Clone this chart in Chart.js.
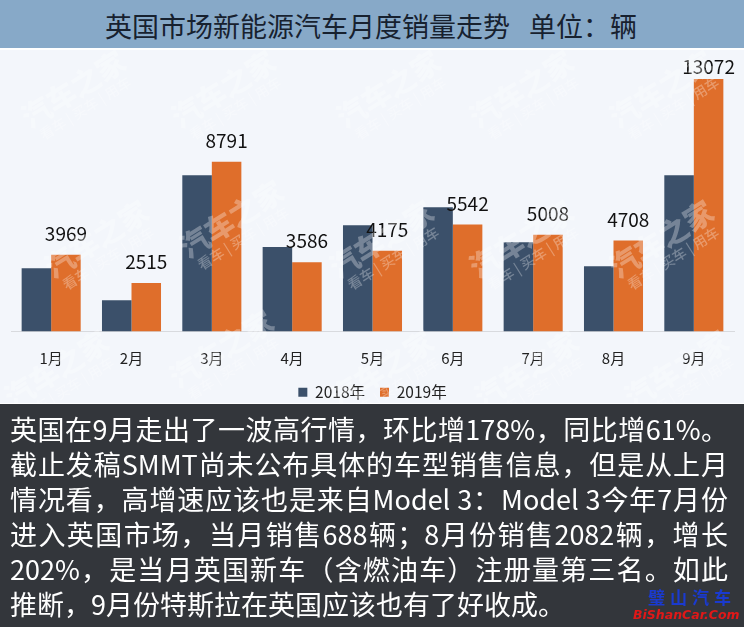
<!DOCTYPE html>
<html lang="zh">
<head>
<meta charset="utf-8">
<script src="https://cdn.jsdelivr.net/npm/chart.js@4"></script>
<style>
  html,body{margin:0;padding:0;background:#fff;overflow:hidden}
  #page{position:relative;width:744px;height:627px;overflow:hidden;font-family:"Noto Sans CJK SC","Noto Sans",sans-serif}
  #title{position:absolute;left:0;top:0;width:744px;height:48px;background:#87a9c8;color:#17212f;font-size:27px;line-height:52px;white-space:pre}
  #title span{position:absolute;top:0}
  #plot{position:absolute;left:0;top:50px;width:744px;height:353px;background:#f3f6fb;overflow:hidden}
  #marks{position:absolute;left:0;top:50px;width:744px;height:353px;overflow:hidden;pointer-events:none}
  canvas{display:block}
  #panel{position:absolute;left:0;top:404px;width:744px;height:223px;background:#33363b;color:#fff;font-size:27px;line-height:35px}
  #panel div{position:absolute;left:10px;white-space:nowrap}
  #panel div.fit{width:718px;white-space:normal;text-align:justify;text-align-last:justify;height:35px}
  .wm{position:absolute;color:#fff;opacity:.3;font-weight:900;font-size:29px;line-height:30px;transform:translate(-50%,-50%) rotate(-32deg);white-space:nowrap;text-align:center}
  .wm small{display:block;font-size:14px;line-height:18px;font-weight:500}
  #stampA{position:absolute;left:648px;top:586px;color:#1a3ad0;font-size:17px;letter-spacing:5px;font-weight:700;line-height:22px;white-space:nowrap;font-family:"Noto Sans CJK SC"}
  #stampB{position:absolute;left:633px;top:607px;color:#e01818;font-size:12.5px;font-weight:900;font-style:italic;line-height:16px;white-space:nowrap;font-family:"DejaVu Sans"}
</style>
</head>
<body>
<div id="page">
  <div id="title"><span style="left:105px">英国市场新能源汽车月度销量走势</span><span style="left:529px">单位：辆</span></div>
  <div id="plot"><canvas id="c" width="744" height="360"></canvas></div>
  <div id="marks"></div>
  <div id="panel"></div>
  <div id="stampA">璧山汽车</div>
  <div id="stampB">BiShanCar.Com</div>
</div>
<script>
const categories = ["1月","2月","3月","4月","5月","6月","7月","8月","9月"];
const seriesNames = ["2018年","2019年"];
const values2018 = [3270,1620,8090,4370,5500,6430,4620,3380,8090];
const values2019 = [3969,2515,8791,3586,4175,5542,5008,4708,13072];
const bodyLines = [
  "英国在9月走出了一波高行情，环比增178%，同比增61%。",
  "截止发稿SMMT尚未公布具体的车型销售信息，但是从上月",
  "情况看，高增速应该也是来自Model 3：Model 3今年7月份",
  "进入英国市场，当月销售688辆；8月份销售2082辆，增长",
  "202%，是当月英国新车（含燃油车）注册量第三名。如此",
  "推断，9月份特斯拉在英国应该也有了好收成。"
];
const watermarkText = "汽车之家";
const watermarkSub = "看车 | 买车 | 用车";

const panel = document.getElementById('panel');
bodyLines.forEach((t,i)=>{
  const d=document.createElement('div');
  d.textContent=t; d.style.top=(7+i*35)+'px';
  if(i<5) d.className='fit';
  panel.appendChild(d);
});
const marks=document.getElementById('marks');
[[77,45],[227,45],[392,45],[525,45],[665,45],
 [100,195],[235,175],[385,195],[525,195],[665,195],
 [60,325],[225,305],[385,325],[530,325],[680,325]].forEach(p=>{
  const w=document.createElement('div');
  w.className='wm'; w.style.left=p[0]+'px'; w.style.top=p[1]+'px';
  w.innerHTML=watermarkText+'<small>'+watermarkSub+'</small>';
  marks.appendChild(w);
});

const valueLabels = {
  id:'valueLabels',
  afterDatasetsDraw(chart){
    const meta=chart.getDatasetMeta(1), ctx=chart.ctx;
    ctx.save();
    ctx.font='19px "Noto Sans CJK SC"';
    ctx.fillStyle='#111';
    ctx.textAlign='center';
    ctx.textBaseline='middle';
    meta.data.forEach((bar,i)=>{
      ctx.fillText(String(values2019[i]), bar.x, Math.max(bar.y-21, 17));
    });
    ctx.restore();
  }
};

new Chart(document.getElementById('c'),{
  type:'bar',
  data:{labels:categories,datasets:[
    {label:seriesNames[0],data:values2018,backgroundColor:'#3b506a',categoryPercentage:0.735,barPercentage:1},
    {label:seriesNames[1],data:values2019,backgroundColor:'#df6e2b',categoryPercentage:0.735,barPercentage:1}
  ]},
  options:{
    responsive:false,animation:false,
    layout:{padding:{left:11,right:10,top:11,bottom:0}},
    plugins:{
      tooltip:{enabled:false},
      title:{display:false},
      legend:{display:true,position:'bottom',
        labels:{boxWidth:9,boxHeight:9,padding:15,color:'#222',font:{size:15.5,family:'"Noto Sans CJK SC"'}}}
    },
    scales:{
      x:{grid:{display:false,drawTicks:false},border:{color:'#d8dade',width:1},
         afterFit(scale){scale.height=38;},
         ticks:{color:'#222',padding:18,font:{size:15,family:'"Noto Sans CJK SC"'}}},
      y:{display:false,min:0,max:14000}
    }
  },
  plugins:[valueLabels]
});
</script>
</body>
</html>
